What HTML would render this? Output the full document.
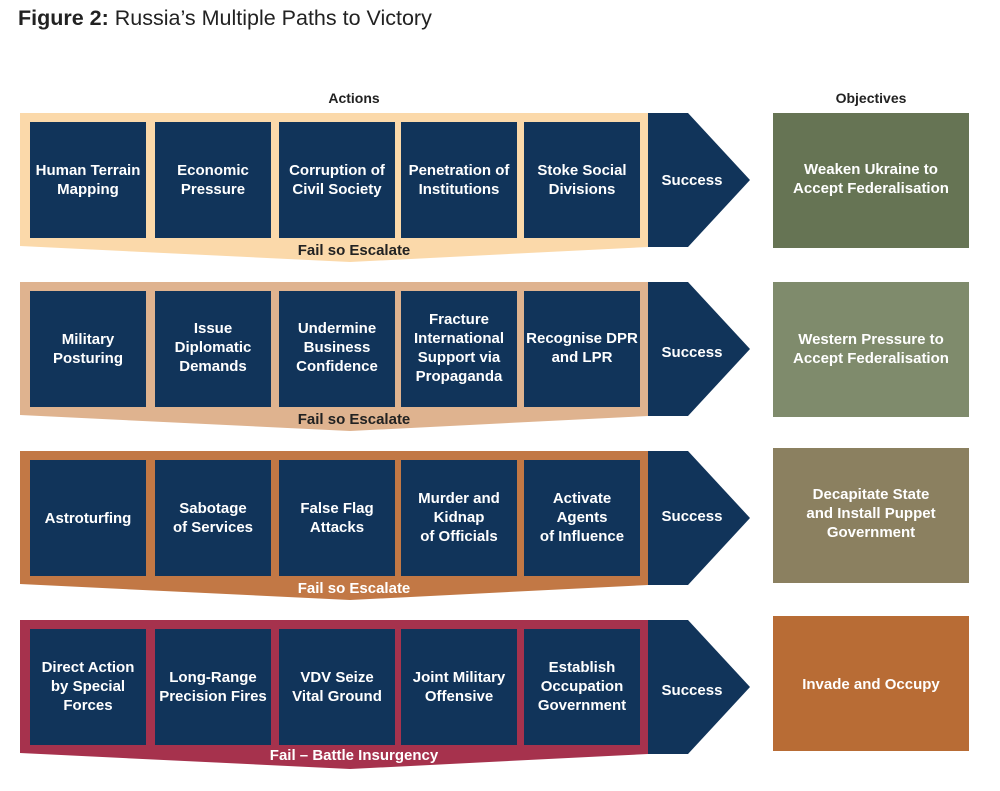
<!DOCTYPE html>
<html><head><meta charset="utf-8"><style>
body{margin:0;background:#fff;width:1000px;height:791px;overflow:hidden}
svg{display:block}
text{font-family:"Liberation Sans",sans-serif}
.b{fill:#fff;font-weight:bold;font-size:15px;text-anchor:middle}
</style></head><body>
<svg width="1000" height="791" viewBox="0 0 1000 791">
<text x="18" y="25" font-size="21.5" fill="#222"><tspan font-weight="bold">Figure 2:</tspan> Russia’s Multiple Paths to Victory</text>
<text x="354" y="103" font-size="14" font-weight="bold" fill="#222" text-anchor="middle">Actions</text>
<text x="871" y="103" font-size="14" font-weight="bold" fill="#222" text-anchor="middle">Objectives</text>

<!-- Row 1 -->
<g transform="translate(0,113)">
<polygon points="20,0 648,0 648,134 350,149 20,133" fill="#fbd9aa"/>
<rect x="30" y="9" width="116" height="116" fill="#11345a"/><rect x="155" y="9" width="116" height="116" fill="#11345a"/><rect x="279" y="9" width="116" height="116" fill="#11345a"/><rect x="401" y="9" width="116" height="116" fill="#11345a"/><rect x="524" y="9" width="116" height="116" fill="#11345a"/>
<polygon points="648,0 688,0 750,67 688,134 648,134" fill="#11345a"/>
<text class="b" x="692" y="72">Success</text>
<rect x="773" y="0" width="196" height="135" fill="#667454"/>
<text class="b" x="871" y="61">Weaken Ukraine to</text><text class="b" x="871" y="80">Accept Federalisation</text>
<text class="b" x="88" y="62">Human Terrain</text><text class="b" x="88" y="81">Mapping</text>
<text class="b" x="213" y="62">Economic</text><text class="b" x="213" y="81">Pressure</text>
<text class="b" x="337" y="62">Corruption of</text><text class="b" x="337" y="81">Civil Society</text>
<text class="b" x="459" y="62">Penetration of</text><text class="b" x="459" y="81">Institutions</text>
<text class="b" x="582" y="62">Stoke Social</text><text class="b" x="582" y="81">Divisions</text>
<text class="b" x="354" y="142" style="fill:#222">Fail so Escalate</text>
</g>

<!-- Row 2 -->
<g transform="translate(0,282)">
<polygon points="20,0 648,0 648,134 350,149 20,133" fill="#dfb38f"/>
<rect x="30" y="9" width="116" height="116" fill="#11345a"/><rect x="155" y="9" width="116" height="116" fill="#11345a"/><rect x="279" y="9" width="116" height="116" fill="#11345a"/><rect x="401" y="9" width="116" height="116" fill="#11345a"/><rect x="524" y="9" width="116" height="116" fill="#11345a"/>
<polygon points="648,0 688,0 750,67 688,134 648,134" fill="#11345a"/>
<text class="b" x="692" y="75">Success</text>
<rect x="773" y="0" width="196" height="135" fill="#7f8b6c"/>
<text class="b" x="871" y="62">Western Pressure to</text><text class="b" x="871" y="81">Accept Federalisation</text>
<text class="b" x="88" y="62">Military</text><text class="b" x="88" y="81">Posturing</text>
<text class="b" x="213" y="51">Issue</text><text class="b" x="213" y="70">Diplomatic</text><text class="b" x="213" y="89">Demands</text>
<text class="b" x="337" y="51">Undermine</text><text class="b" x="337" y="70">Business</text><text class="b" x="337" y="89">Confidence</text>
<text class="b" x="459" y="42">Fracture</text><text class="b" x="459" y="61">International</text><text class="b" x="459" y="80">Support via</text><text class="b" x="459" y="99">Propaganda</text>
<text class="b" x="582" y="61">Recognise DPR</text><text class="b" x="582" y="80">and LPR</text>
<text class="b" x="354" y="142" style="fill:#222">Fail so Escalate</text>
</g>

<!-- Row 3 -->
<g transform="translate(0,451)">
<polygon points="20,0 648,0 648,134 350,149 20,133" fill="#c27845"/>
<rect x="30" y="9" width="116" height="116" fill="#11345a"/><rect x="155" y="9" width="116" height="116" fill="#11345a"/><rect x="279" y="9" width="116" height="116" fill="#11345a"/><rect x="401" y="9" width="116" height="116" fill="#11345a"/><rect x="524" y="9" width="116" height="116" fill="#11345a"/>
<polygon points="648,0 688,0 750,67 688,134 648,134" fill="#11345a"/>
<text class="b" x="692" y="70">Success</text>
<rect x="773" y="-3" width="196" height="135" fill="#8b8060"/>
<text class="b" x="871" y="48">Decapitate State</text><text class="b" x="871" y="67">and Install Puppet</text><text class="b" x="871" y="86">Government</text>
<text class="b" x="88" y="72">Astroturfing</text>
<text class="b" x="213" y="62">Sabotage</text><text class="b" x="213" y="81">of Services</text>
<text class="b" x="337" y="62">False Flag</text><text class="b" x="337" y="81">Attacks</text>
<text class="b" x="459" y="52">Murder and</text><text class="b" x="459" y="71">Kidnap</text><text class="b" x="459" y="90">of Officials</text>
<text class="b" x="582" y="52">Activate</text><text class="b" x="582" y="71">Agents</text><text class="b" x="582" y="90">of Influence</text>
<text class="b" x="354" y="142">Fail so Escalate</text>
</g>

<!-- Row 4 -->
<g transform="translate(0,620)">
<polygon points="20,0 648,0 648,134 350,149 20,133" fill="#a6324d"/>
<rect x="30" y="9" width="116" height="116" fill="#11345a"/><rect x="155" y="9" width="116" height="116" fill="#11345a"/><rect x="279" y="9" width="116" height="116" fill="#11345a"/><rect x="401" y="9" width="116" height="116" fill="#11345a"/><rect x="524" y="9" width="116" height="116" fill="#11345a"/>
<polygon points="648,0 688,0 750,67 688,134 648,134" fill="#11345a"/>
<text class="b" x="692" y="75">Success</text>
<rect x="773" y="-4" width="196" height="135" fill="#b86c35"/>
<text class="b" x="871" y="69">Invade and Occupy</text>
<text class="b" x="88" y="52">Direct Action</text><text class="b" x="88" y="71">by Special</text><text class="b" x="88" y="90">Forces</text>
<text class="b" x="213" y="62">Long-Range</text><text class="b" x="213" y="81">Precision Fires</text>
<text class="b" x="337" y="62">VDV Seize</text><text class="b" x="337" y="81">Vital Ground</text>
<text class="b" x="459" y="62">Joint Military</text><text class="b" x="459" y="81">Offensive</text>
<text class="b" x="582" y="52">Establish</text><text class="b" x="582" y="71">Occupation</text><text class="b" x="582" y="90">Government</text>
<text class="b" x="354" y="140">Fail – Battle Insurgency</text>
</g>
</svg>
</body></html>
